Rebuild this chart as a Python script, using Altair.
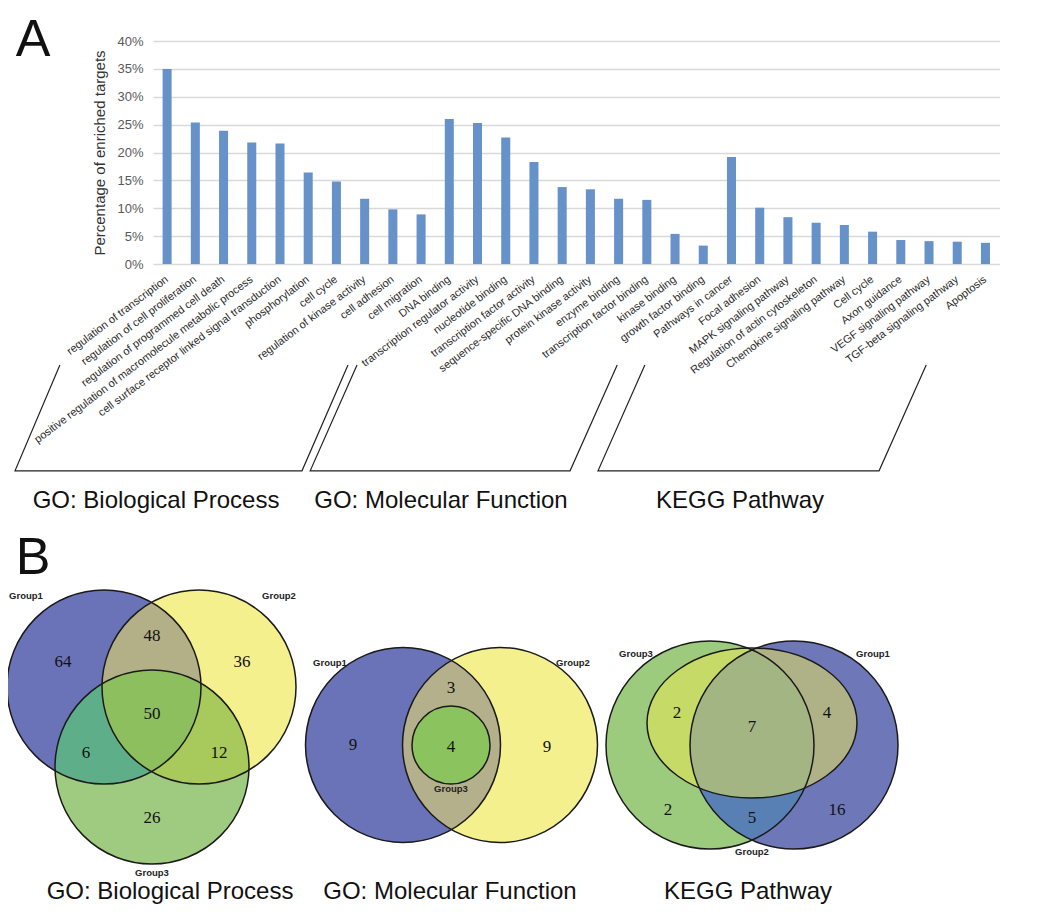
import math
import altair as alt
import pandas as pd

# ---------------- data ----------------
bp_terms = ["regulation of transcription", "regulation of cell proliferation",
            "regulation of programmed cell death",
            "positive regulation of macromolecule metabolic process",
            "cell surface receptor linked signal transduction", "phosphorylation",
            "cell cycle", "regulation of kinase activity", "cell adhesion", "cell migration"]
bp_pct = [35.0, 25.4, 23.9, 21.8, 21.6, 16.4, 14.8, 11.7, 9.8, 8.9]

mf_terms = ["DNA binding", "transcription regulator activity", "nucleotide binding",
            "transcription factor activity", "sequence-specific DNA binding",
            "protein kinase activity", "enzyme binding", "transcription factor binding",
            "kinase binding", "growth factor binding"]
mf_pct = [26.0, 25.3, 22.7, 18.3, 13.8, 13.4, 11.7, 11.5, 5.4, 3.3]

kegg_terms = ["Pathways in cancer", "Focal adhesion", "MAPK signaling pathway",
              "Regulation of actin cytoskeleton", "Chemokine signaling pathway",
              "Cell cycle", "Axon guidance", "VEGF signaling pathway",
              "TGF-beta signaling pathway", "Apoptosis"]
kegg_pct = [19.2, 10.1, 8.4, 7.4, 7.0, 5.8, 4.3, 4.1, 4.0, 3.8]

y_ticks = [0, 5, 10, 15, 20, 25, 30, 35, 40]
y_title = "Percentage of enriched targets"
group_titles = ["GO: Biological Process", "GO: Molecular Function", "KEGG Pathway"]
panel_letters = ["A", "B"]
set_names = ["Group1", "Group2", "Group3"]

# Venn region counts
bp_counts = [64, 48, 36, 50, 6, 12, 26]     # G1, G1G2, G2, all, G1G3, G2G3, G3
mf_counts = [9, 3, 4, 9]                    # G1, G1G2, all, G2
kegg_counts = [2, 7, 4, 2, 5, 16]           # G2G3, all, G1G2, G3, G1G3, G1

# ---------------- layout / style ----------------
PLOT_W, PLOT_H = 903, 223
PAD = {"left": 145, "top": 33, "right": 0, "bottom": 641}
OX, OY = 8 + PAD["left"], 8 + PAD["top"]          # page position of plot origin
FONT = "Liberation Sans"
BAR_COLOR = "#6791c9"
SLOTS = 32          # the category axis leaves two empty slots at the right

terms = bp_terms + mf_terms + kegg_terms
pcts = bp_pct + mf_pct + kegg_pct
pin = 0.68

bars = alt.Chart(pd.DataFrame({"term": terms, "pct": pcts})).mark_bar(color=BAR_COLOR).encode(
    x=alt.X("term:N", sort=terms, title=None,
            scale=alt.Scale(paddingInner=pin, paddingOuter=pin / 2,
                            range=[0, PLOT_W * len(terms) / SLOTS]),
            axis=alt.Axis(labelAngle=-37, labelAlign="right", labelBaseline="middle",
                          labelFont=FONT, labelFontSize=11, labelColor="#2b2b2b",
                          labelPadding=14, ticks=False, domain=False, labelLimit=500,
                          labelOverlap=False, labelBound=False, labelFlush=False)),
    y=alt.Y("pct:Q", scale=alt.Scale(domain=[0, 40], nice=False),
            axis=alt.Axis(values=y_ticks, labelExpr="datum.value + '%'",
                          title=y_title, titleFont=FONT, titleFontSize=15,
                          titleFontWeight="normal", titleColor="#333333", titlePadding=9,
                          labelFont=FONT, labelFontSize=13, labelColor="#595959",
                          labelPadding=10, ticks=False, domain=False,
                          grid=True, gridColor="#d9d9d9", gridWidth=1.6)),
)

# brackets under the category labels, in the bar panel's own units (slot index, percent)
br_rows = []
brackets = {
    "bp": [(-3.80, -18.1), (-5.39, -37.1), (4.78, -37.1), (6.41, -18.1)],
    "mf": [(6.73, -18.1), (5.07, -37.1), (14.28, -37.1), (15.95, -18.1)],
    "kegg": [(16.93, -18.1), (15.27, -37.1), (25.23, -37.1), (26.90, -18.1)],
}
for name, pts in brackets.items():
    for k, (xi, yp) in enumerate(pts):
        br_rows.append({"b": name, "k": k, "xi": xi, "yp": yp})
bracket_layer = alt.Chart(pd.DataFrame(br_rows)).mark_line(color="#222222", strokeWidth=1.2).encode(
    x=alt.X("xi:Q", scale=alt.Scale(domain=[-0.5, SLOTS - 0.5], nice=False, zero=False), axis=None),
    y=alt.Y("yp:Q", scale=alt.Scale(domain=[0, 40], nice=False, zero=False), axis=None),
    detail="b:N", order="k:Q")

# ---------------- page-unit layer (Venn diagrams and headings) ----------------
PX = alt.Scale(domain=[OX, OX + PLOT_W], nice=False, zero=False)
PY = alt.Scale(domain=[OY, OY + PLOT_H], nice=False, zero=False, reverse=True)
ELLIPSE = "M -1 0 A 1 0.714 0 1 1 1 0 A 1 0.714 0 1 1 -1 0 Z"

# Venn set geometry (centre x, centre y, radius)
bp_sets = [(104, 687, 97), (199, 687, 97), (152, 767, 97)]
mf_sets = [(403, 745, 97.5), (500, 745, 97.5), (451, 745, 39)]
kegg_sets = [(794, 745, 104), (752, 723, 105, 75), (710, 745, 104)]   # G1, G2 (ellipse), G3


def inter(c1, c2):
    (x1, y1, r1), (x2, y2, r2) = c1[:3], c2[:3]
    d = math.hypot(x2 - x1, y2 - y1)
    a = (d * d + r1 * r1 - r2 * r2) / (2 * d)
    h = math.sqrt(max(r1 * r1 - a * a, 0))
    xm, ym = x1 + a * (x2 - x1) / d, y1 + a * (y2 - y1) / d
    return ((xm + h * (y2 - y1) / d, ym - h * (x2 - x1) / d),
            (xm - h * (y2 - y1) / d, ym + h * (x2 - x1) / d))


def arc(p, q, c, anchor):
    cr = (p[0] - c[0]) * (q[1] - c[1]) - (p[1] - c[1]) * (q[0] - c[0])
    return "A %.2f %.2f 0 0 %d %.2f %.2f" % (c[2], c[2], 1 if cr > 0 else 0,
                                             q[0] - anchor[0], q[1] - anchor[1])


def mv(p, anchor):
    return "M %.2f %.2f" % (p[0] - anchor[0], p[1] - anchor[1])


def lens(c1, c2):
    p, q = inter(c1, c2)
    return " ".join([mv(p, c1), arc(p, q, c1, c1), arc(q, p, c2, c1), "Z"])


def inside(p, c):
    return math.hypot(p[0] - c[0], p[1] - c[1]) < c[2]


def triple(c1, c2, c3):
    v12 = [p for p in inter(c1, c2) if inside(p, c3)][0]
    v13 = [p for p in inter(c1, c3) if inside(p, c2)][0]
    v23 = [p for p in inter(c2, c3) if inside(p, c1)][0]
    return " ".join([mv(v12, c1), arc(v12, v13, c1, c1), arc(v13, v23, c3, c1),
                     arc(v23, v12, c2, c1), "Z"])


rows = []


def add_circle(c, fill, op=1.0):
    rows.append({"x": c[0], "y": c[1], "size": (2 * c[2]) ** 2, "shape": "circle",
                 "fill": fill, "op": op, "k": len(rows)})


def add_path(anchor, path, fill, op=1.0):
    rows.append({"x": anchor[0], "y": anchor[1], "size": 4, "shape": path,
                 "fill": fill, "op": op, "k": len(rows)})


BLUE, YELLOW, GREEN = "#6b73b8", "#f4f08e", "#9fcb81"
b1, b2, b3 = bp_sets
add_circle(b1, BLUE); add_circle(b2, YELLOW); add_circle(b3, GREEN)
add_path(b1, lens(b1, b2), "#b3b088")
add_path(b1, lens(b1, b3), "#5fae8a")
add_path(b2, lens(b2, b3), "#a8c95c")
add_path(b1, triple(b1, b2, b3), "#8dbf5e")

m1, m2, m3 = mf_sets
add_circle(m1, BLUE); add_circle(m2, YELLOW)
add_path(m1, lens(m1, m2), "#b4b08c")
add_circle(m3, "#8bc35f")

k1, k2, k3 = kegg_sets
add_circle(k3, "#9ccb7d"); add_circle(k1, "#6e78b9")
add_path(k1, lens(k1, k3), "#5880b4")
rows.append({"x": k2[0], "y": k2[1], "size": (2 * k2[2]) ** 2, "shape": ELLIPSE,
             "fill": "#f0e953", "op": 0.5, "k": len(rows)})
regions = pd.DataFrame(rows)

outline_rows = []
for c in list(bp_sets) + list(mf_sets) + [k3, k1]:
    outline_rows.append({"x": c[0], "y": c[1], "size": (2 * c[2]) ** 2, "shape": "circle"})
outline_rows.append({"x": k2[0], "y": k2[1], "size": (2 * k2[2]) ** 2, "shape": ELLIPSE})
outlines_df = pd.DataFrame(outline_rows)

enc_xy = dict(x=alt.X("x:Q", scale=PX, axis=None), y=alt.Y("y:Q", scale=PY, axis=None))

fills = alt.Chart(regions).mark_point(filled=True, strokeWidth=0).encode(
    **enc_xy, size=alt.Size("size:Q", scale=None, legend=None),
    shape=alt.Shape("shape:N", scale=None, legend=None),
    color=alt.Color("fill:N", scale=None, legend=None),
    opacity=alt.Opacity("op:Q", scale=None, legend=None), order="k:Q")
outlines = alt.Chart(outlines_df).mark_point(filled=False, strokeWidth=1.5).encode(
    **enc_xy, size=alt.Size("size:Q", scale=None, legend=None),
    shape=alt.Shape("shape:N", scale=None, legend=None),
    color=alt.value("#1a1a1a"), opacity=alt.value(1))

bp_pos = [(63, 662), (152, 636), (242, 662), (152, 714), (86, 753), (219, 753), (152, 818)]
mf_pos = [(353, 745), (451, 688), (451, 747), (547, 747)]
kegg_pos = [(677, 713), (752, 727), (827, 713), (668, 810), (752, 818), (837, 810)]
num_rows = []
for counts, pos in [(bp_counts, bp_pos), (mf_counts, mf_pos), (kegg_counts, kegg_pos)]:
    for c, (x, y) in zip(counts, pos):
        num_rows.append({"x": x, "y": y, "t": str(c)})
numbers = alt.Chart(pd.DataFrame(num_rows)).mark_text(
    font="Liberation Serif", fontSize=17, color="#111111", baseline="middle").encode(
    **enc_xy, text="t:N")

lab_pos = {
    "bp": [(26, 596), (279, 596), (152, 873)],
    "mf": [(330, 663), (573, 663), (451, 789)],
    "kegg": [(873, 654), (752, 852), (636, 654)],
}
lab_rows = []
for key in ["bp", "mf", "kegg"]:
    for nm, (x, y) in zip(set_names, lab_pos[key]):
        lab_rows.append({"x": x, "y": y, "t": nm})
set_labels = alt.Chart(pd.DataFrame(lab_rows)).mark_text(
    font=FONT, fontSize=9.5, fontWeight="bold", color="#222222", baseline="middle").encode(
    **enc_xy, text="t:N")

title_rows = []
for t, x in zip(group_titles, [156, 441, 740]):
    title_rows.append({"x": x, "y": 508, "t": t})
for t, x in zip(group_titles, [170, 450, 748]):
    title_rows.append({"x": x, "y": 899, "t": t})
titles = alt.Chart(pd.DataFrame(title_rows)).mark_text(
    font=FONT, fontSize=24, color="#111111", baseline="alphabetic").encode(
    **enc_xy, text="t:N")

letters = alt.Chart(pd.DataFrame({"x": [33, 33], "y": [55.5, 574], "t": panel_letters})).mark_text(
    font=FONT, fontSize=52, color="#111111", baseline="alphabetic").encode(
    **enc_xy, text="t:N")

page = alt.layer(fills, outlines, numbers, set_labels, titles, letters)

chart = alt.layer(bars, bracket_layer, page).resolve_scale(
    x="independent", y="independent"
).properties(
    width=PLOT_W, height=PLOT_H,
    autosize=alt.AutoSizeParams(type="none"),
    padding=PAD,
    background="white",
).configure_view(stroke=None)

chart.save("out.html", embed_options={"renderer": "svg", "actions": False})
